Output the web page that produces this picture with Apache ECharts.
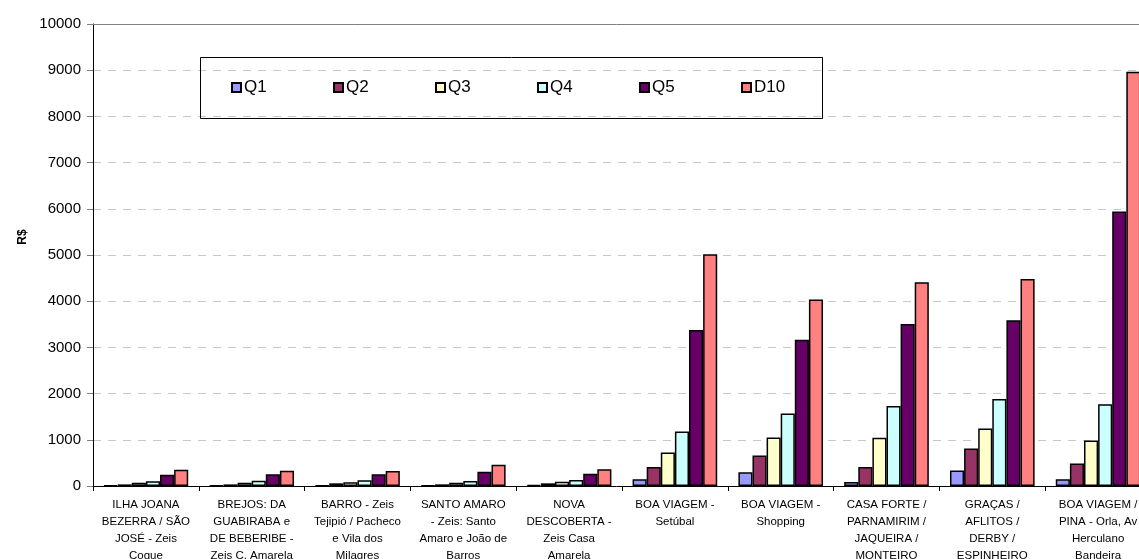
<!DOCTYPE html>
<html>
<head>
<meta charset="utf-8">
<title>Renda por quintil - Recife</title>
<script src="https://cdn.jsdelivr.net/npm/echarts@6/dist/echarts.min.js"></script>
<style>
  html, body { margin: 0; padding: 0; background: #fff; }
  #chart { width: 1139px; height: 559px; }
</style>
</head>
<body>
<div id="chart"></div>
<script>
// Neighbourhood groups (x axis), wrapped as they appear under the axis
const categories = [
  'ILHA JOANA\nBEZERRA / SÃO\nJOSÉ - Zeis\nCoque',
  'BREJOS: DA\nGUABIRABA e\nDE BEBERIBE -\nZeis C. Amarela',
  'BARRO - Zeis\nTejipió / Pacheco\ne Vila dos\nMilagres',
  'SANTO AMARO\n- Zeis: Santo\nAmaro e João de\nBarros',
  'NOVA\nDESCOBERTA -\nZeis Casa\nAmarela',
  'BOA VIAGEM -\nSetúbal',
  'BOA VIAGEM -\nShopping',
  'CASA FORTE /\nPARNAMIRIM /\nJAQUEIRA /\nMONTEIRO',
  'GRAÇAS /\nAFLITOS /\nDERBY /\nESPINHEIRO',
  'BOA VIAGEM /\nPINA - Orla, Av\nHerculano\nBandeira'
];

// Income (R$) per quintile and top decile
const seriesNames = ['Q1', 'Q2', 'Q3', 'Q4', 'Q5', 'D10'];
const q1  = [15, 12, 10, 10, 20, 144, 295, 86, 338, 144];
const q2  = [35, 35, 58, 36, 58, 410, 662, 410, 813, 489];
const q3  = [72, 72, 79, 72, 94, 727, 1050, 1043, 1245, 986];
const q4  = [105, 115, 122, 108, 130, 1180, 1568, 1734, 1885, 1770];
const q5  = [245, 252, 252, 310, 266, 3374, 3166, 3504, 3590, 5942];
const d10 = [350, 331, 324, 460, 360, 5015, 4036, 4410, 4482, 8965];
const seriesValues = [q1, q2, q3, q4, q5, d10];

const seriesColors = ['#9999FF', '#993366', '#FFFFCC', '#CCFFFF', '#660066', '#FF8080'];

const FONT = 'Arial, "Liberation Sans", sans-serif';

const chart = echarts.init(document.getElementById('chart'), null, { renderer: 'canvas' });

const legends = seriesNames.map((name, i) => ({
  data: [name],
  left: 231 + i * 102,
  top: 79,
  padding: 0,
  icon: 'rect',
  itemWidth: 9,
  itemHeight: 9,
  itemGap: 0,
  selectedMode: false,
  textStyle: { fontFamily: FONT, fontSize: 17, color: '#000', padding: [0, 0, 0, -2] }
}));

chart.setOption({
  animation: false,
  backgroundColor: '#fff',
  textStyle: { fontFamily: FONT },
  grid: {
    left: 93, top: 24, width: 1058, height: 462,
    containLabel: false,
    outerBoundsMode: 'none'
  },
  legend: legends,
  xAxis: [
    {
      type: 'category',
      data: categories,
      boundaryGap: true,
      axisLine: { show: true, lineStyle: { color: '#000', width: 1 } },
      axisTick: { show: true, length: 5, lineStyle: { color: '#000' } },
      axisLabel: {
        interval: 0,
        margin: 10,
        fontFamily: FONT,
        fontSize: 11.5,
        lineHeight: 17,
        color: '#000',
        align: 'center'
      },
      splitLine: { show: false }
    },
    {
      type: 'category',
      data: categories,
      position: 'top',
      axisLine: { show: true, lineStyle: { color: '#808080', width: 1 } },
      axisTick: { show: false },
      axisLabel: { show: false },
      splitLine: { show: false }
    }
  ],
  yAxis: {
    type: 'value',
    min: 0,
    max: 10000,
    interval: 1000,
    axisLine: { show: true, lineStyle: { color: '#000', width: 1 } },
    axisTick: { show: true, length: 6, lineStyle: { color: '#808080' } },
    axisLabel: {
      margin: 12,
      fontFamily: FONT,
      fontSize: 15,
      color: '#000',
      formatter: (v) => String(v)
    },
    splitLine: {
      show: true,
      lineStyle: { color: '#C8C8C8', width: 1, type: [8, 7] }
    }
  },
  graphic: [
    {
      type: 'rect',
      shape: { x: 200.5, y: 57.5, width: 622, height: 61 },
      style: { fill: 'none', stroke: '#000', lineWidth: 1 },
      z: 10
    },
    {
      type: 'text',
      x: 23,
      y: 237,
      rotation: Math.PI / 2,
      style: {
        text: 'R$',
        font: 'bold 12px ' + FONT,
        fill: '#000',
        textAlign: 'center',
        textVerticalAlign: 'middle'
      }
    }
  ],
  series: seriesNames.map((name, i) => ({
    name: name,
    type: 'bar',
    xAxisIndex: 0,
    data: seriesValues[i],
    barGap: '0%',
    barCategoryGap: '20%',
    itemStyle: { color: seriesColors[i], borderColor: '#000', borderWidth: 1.5 },
    emphasis: { disabled: true }
  }))
});
</script>
</body>
</html>
